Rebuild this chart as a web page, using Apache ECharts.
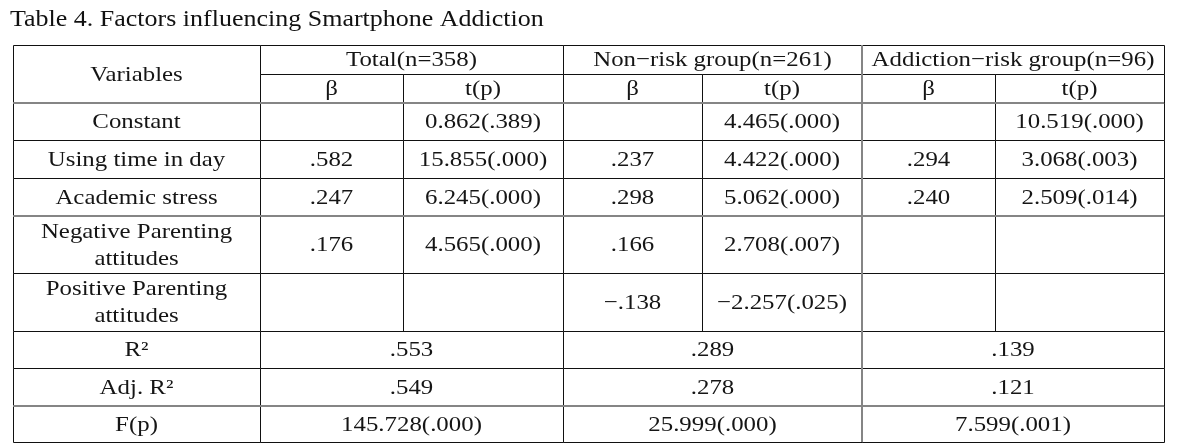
<!DOCTYPE html>
<html>
<head>
<meta charset="utf-8">
<script src="https://cdn.jsdelivr.net/npm/echarts@6/dist/echarts.min.js"></script>
<style>
  html, body { margin: 0; padding: 0; background: #ffffff; }
  #chart { width: 1185px; height: 447px; }
</style>
</head>
<body>
<div id="chart"></div>
<script>
// ---------- data ----------
const tableTitle = 'Table 4. Factors influencing Smartphone Addiction';
const variablesHeader = 'Variables';
const groups = ['Total(n=358)', 'Non\u2212risk group(n=261)', 'Addiction\u2212risk group(n=96)'];
const subHeaders = ['\u03b2', 't(p)'];
const variables = ['Constant', 'Using time in day', 'Academic stress', 'Negative Parenting\nattitudes', 'Positive Parenting\nattitudes'];
const betaTotal   = ['', '.582', '.247', '.176', ''];
const tTotal      = ['0.862(.389)', '15.855(.000)', '6.245(.000)', '4.565(.000)', ''];
const betaNonRisk = ['', '.237', '.298', '.166', '\u2212.138'];
const tNonRisk    = ['4.465(.000)', '4.422(.000)', '5.062(.000)', '2.708(.007)', '\u22122.257(.025)'];
const betaRisk    = ['', '.294', '.240', '', ''];
const tRisk       = ['10.519(.000)', '3.068(.003)', '2.509(.014)', '', ''];
const fitLabels   = ['R\u00b2', 'Adj. R\u00b2', 'F(p)'];
const fitTotal    = ['.553', '.549', '145.728(.000)'];
const fitNonRisk  = ['.289', '.278', '25.999(.000)'];
const fitRisk     = ['.139', '.121', '7.599(.001)'];

// ---------- layout (axis units) ----------
const colEdges = [0, 247, 390, 550, 689, 849, 982, 1151];
const rowEdges = [0, 29, 58, 95, 133, 171, 228, 286, 323, 361, 397];
const FONT = '22px "Liberation Serif", "Times New Roman", serif';
const SCALE_X = 1.13;

// ---------- build cells: [c0, c1, r0, r1, text] ----------
const cells = [];
cells.push([0, 1, 0, 2, variablesHeader]);
groups.forEach((g, i) => cells.push([1 + 2 * i, 3 + 2 * i, 0, 1, g]));
for (let i = 0; i < 3; i++) {
  subHeaders.forEach((s, j) => cells.push([1 + 2 * i + j, 2 + 2 * i + j, 1, 2, s]));
}
const bodyCols = [betaTotal, tTotal, betaNonRisk, tNonRisk, betaRisk, tRisk];
variables.forEach((v, r) => {
  cells.push([0, 1, 2 + r, 3 + r, v]);
  bodyCols.forEach((col, c) => cells.push([1 + c, 2 + c, 2 + r, 3 + r, col[r]]));
});
const fitCols = [fitTotal, fitNonRisk, fitRisk];
fitLabels.forEach((f, r) => {
  cells.push([0, 1, 7 + r, 8 + r, f]);
  fitCols.forEach((col, i) => cells.push([1 + 2 * i, 3 + 2 * i, 7 + r, 8 + r, col[r]]));
});

// emphasized (grey, thicker) rules: [x0, x1, y0, y1] in edge indices
const greyRules = [
  [0, 7, 2, 2],
  [0, 7, 5, 5],
  [0, 7, 9, 9],
  [5, 5, 0, 10]
];

const chart = echarts.init(document.getElementById('chart'), null, { renderer: 'canvas' });

chart.setOption({
  animation: false,
  backgroundColor: '#ffffff',
  grid: { left: 13, top: 45, right: 21, bottom: 5 },
  xAxis: { type: 'value', min: 0, max: colEdges[colEdges.length - 1], show: false },
  yAxis: { type: 'value', min: 0, max: rowEdges[rowEdges.length - 1], inverse: true, show: false },
  graphic: [{
    type: 'text',
    x: 10, y: 20,
    scaleX: SCALE_X,
    style: { text: tableTitle, font: '23px "Liberation Serif", serif', fill: '#111', verticalAlign: 'middle', align: 'left' }
  }],
  series: [
    {
      type: 'custom',
      silent: true,
      data: cells.map(c => [colEdges[c[0]], colEdges[c[1]], rowEdges[c[2]], rowEdges[c[3]]]),
      encode: { x: [0, 1], y: [2, 3] },
      renderItem: function (params, api) {
        const p0 = api.coord([api.value(0), api.value(2)]);
        const p1 = api.coord([api.value(1), api.value(3)]);
        const x0 = Math.round(p0[0]), y0 = Math.round(p0[1]);
        const x1 = Math.round(p1[0]), y1 = Math.round(p1[1]);
        const text = cells[params.dataIndex][4];
        return {
          type: 'group',
          children: [
            {
              type: 'rect',
              shape: { x: x0 + 0.5, y: y0 + 0.5, width: x1 - x0, height: y1 - y0 },
              style: { fill: '#ffffff', stroke: '#111111', lineWidth: 1 }
            },
            {
              type: 'text',
              x: (x0 + x1) / 2,
              y: (y0 + y1) / 2 + 1,
              scaleX: SCALE_X,
              style: {
                text: text,
                font: FONT,
                fill: '#151515',
                align: 'center',
                verticalAlign: 'middle',
                lineHeight: 27
              }
            }
          ]
        };
      }
    },
    {
      type: 'custom',
      silent: true,
      z: 5,
      data: greyRules.map(g => [colEdges[g[0]], colEdges[g[1]], rowEdges[g[2]], rowEdges[g[3]]]),
      encode: { x: [0, 1], y: [2, 3] },
      renderItem: function (params, api) {
        const p0 = api.coord([api.value(0), api.value(2)]);
        const p1 = api.coord([api.value(1), api.value(3)]);
        return {
          type: 'line',
          shape: { x1: Math.round(p0[0]), y1: Math.round(p0[1]), x2: Math.round(p1[0]), y2: Math.round(p1[1]) },
          style: { stroke: '#858585', lineWidth: 2 }
        };
      }
    }
  ]
});
</script>
</body>
</html>
